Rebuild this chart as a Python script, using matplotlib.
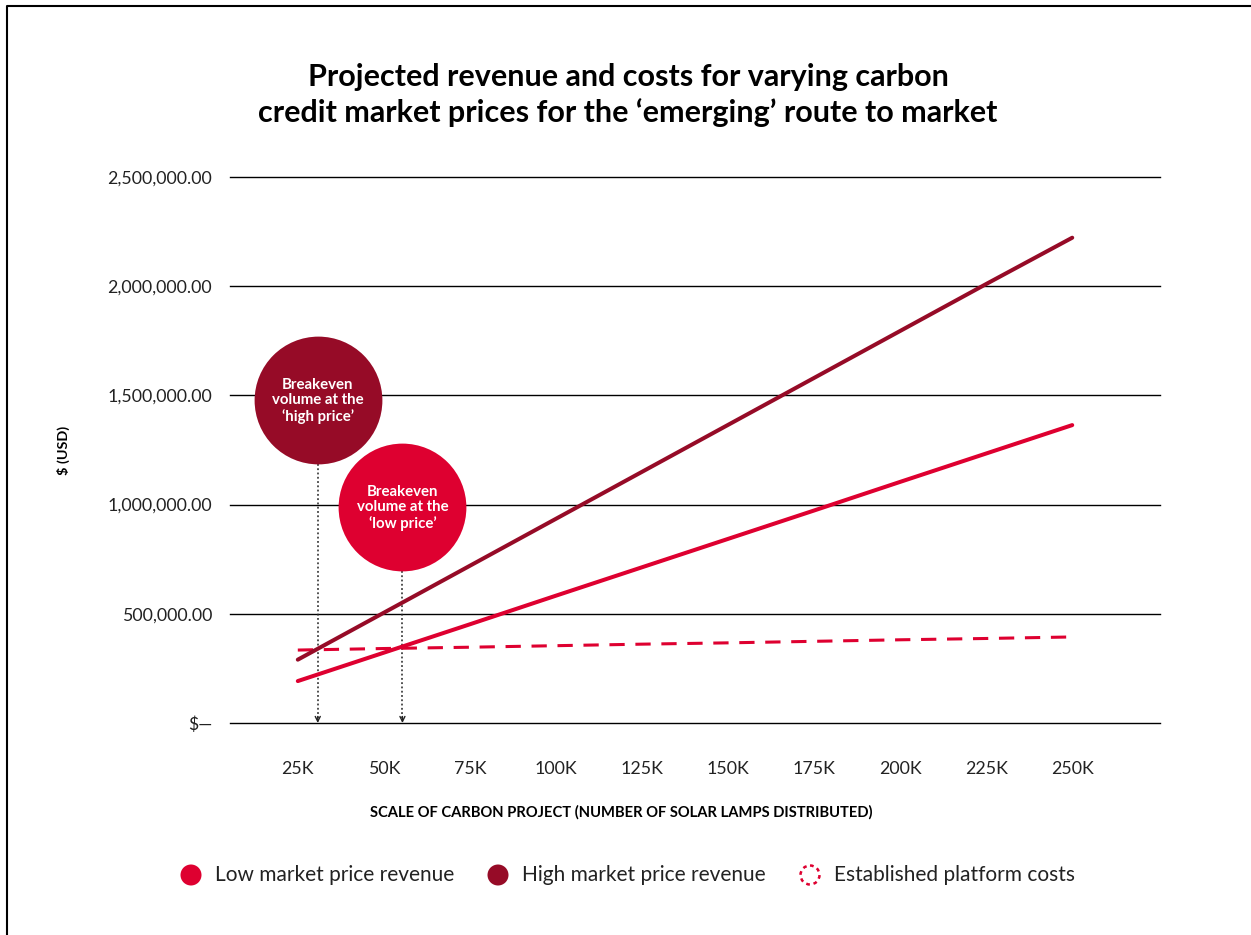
import numpy as np
import matplotlib
matplotlib.use("Agg")
import matplotlib.pyplot as plt
from matplotlib.patches import Circle

# Data (thousands of lamps / USD)
scale_k = [25, 50, 75, 100, 125, 150, 175, 200, 225, 250]
tick_labels = ["25K", "50K", "75K", "100K", "125K", "150K", "175K", "200K", "225K", "250K"]
low_revenue = [192000, 322000, 452000, 583000, 713000, 843000, 973000, 1104000, 1234000, 1364000]
high_revenue = [290000, 505000, 720000, 935000, 1150000, 1365000, 1580000, 1795000, 2010000, 2222000]
platform_costs = [334000, 341000, 347000, 354000, 361000, 367000, 374000, 381000, 387000, 394000]
breakeven_high_k = 30.8
breakeven_low_k = 55.4
y_ticks = [0, 500000, 1000000, 1500000, 2000000, 2500000]
y_tick_labels = ["$\u2014", "500,000.00", "1,000,000.00", "1,500,000.00", "2,000,000.00", "2,500,000.00"]

LOW = "#DE0030"
HIGH = "#960B27"
FONT = "Lato"

plt.rcParams["font.family"] = [FONT, "DejaVu Sans"]

fig = plt.figure(figsize=(12.51, 9.35), dpi=100)
ax = fig.add_axes([230 / 1251, 1 - 723 / 935, 930 / 1251, 546 / 935])
ax.set_xlim(5.3, 275.5)
ax.set_ylim(0, 2500000)
for s in ax.spines.values():
    s.set_visible(False)

for y in y_ticks:
    ax.axhline(y, color="black", lw=1.0, clip_on=False, zorder=1)
ax.set_yticks(y_ticks)
ax.set_yticklabels(y_tick_labels, fontsize=12.8, color="#222222")
ax.tick_params(axis="y", length=0, pad=13)
ax.set_xticks(scale_k)
ax.set_xticklabels(tick_labels, fontsize=12.8, color="#222222")
ax.tick_params(axis="x", length=0, pad=27)

# cost and revenue lines
ax.plot(scale_k, platform_costs, color=LOW, lw=2.2, dashes=(5, 3.5), zorder=3)
ax.plot(scale_k, low_revenue, color=LOW, lw=2.9, solid_capstyle="round", zorder=4)
ax.plot(scale_k, high_revenue, color=HIGH, lw=2.9, solid_capstyle="round", zorder=4)

# breakeven callouts
callouts = [
    (breakeven_high_k, 1479000, HIGH, "Breakeven\nvolume at the\n\u2018high price\u2019"),
    (breakeven_low_k, 989000, LOW, "Breakeven\nvolume at the\n\u2018low price\u2019"),
]
for bx, cy, col, txt in callouts:
    r_data = 64 / 109.2 * 500000
    ax.plot([bx, bx], [cy - r_data, 25000], color="#222222", lw=1.1,
            ls=(0, (1.2, 1.6)), zorder=2)
    ax.annotate("", xy=(bx, 0), xytext=(bx, 30000),
                arrowprops=dict(arrowstyle="->", color="#222222", lw=1.0,
                                mutation_scale=9, shrinkA=0, shrinkB=0), zorder=2)
    ax.plot([bx], [cy], marker="o", ms=92, mfc=col, mec="none", zorder=6)
    ax.text(bx, cy - 4000, txt, ha="center", va="center", color="white",
            fontsize=10.8, fontweight="bold", linespacing=1.12, zorder=7)

# overlay in pixel units for title, labels, legend and frame
ov = fig.add_axes([0, 0, 1, 1], zorder=-1)
ov.set_xlim(0, 1251)
ov.set_ylim(935, 0)
ov.axis("off")
ov.plot([7, 7, 1251], [935, 6, 6], color="black", lw=1.5)

ov.text(628, 95, "Projected revenue and costs for varying carbon\ncredit market prices for the \u2018emerging\u2019 route to market",
        ha="center", va="center", fontsize=22, fontweight="bold", linespacing=1.32)
ov.text(621, 812, "SCALE OF CARBON PROJECT (NUMBER OF SOLAR LAMPS DISTRIBUTED)",
        ha="center", va="center", fontsize=10.6, fontweight="bold")
ov.text(63, 450, "$ (USD)", ha="center", va="center", rotation=90,
        fontsize=10.4, fontweight="bold")

legend_items = [
    (191, LOW, "solid", "Low market price revenue"),
    (498, HIGH, "solid", "High market price revenue"),
    (810, LOW, "dotted", "Established platform costs"),
]
for lx, col, kind, label in legend_items:
    if kind == "solid":
        ov.add_patch(Circle((lx, 875), 10.5, color=col, lw=0))
    else:
        ov.add_patch(Circle((lx, 875), 9.5, fill=False, ec=col, lw=1.8,
                            ls=(0, (1.5, 1.5))))
    ov.text(lx + 24, 875, label, ha="left", va="center", fontsize=15, color="#222222")

fig.savefig("out.png", dpi=100)
